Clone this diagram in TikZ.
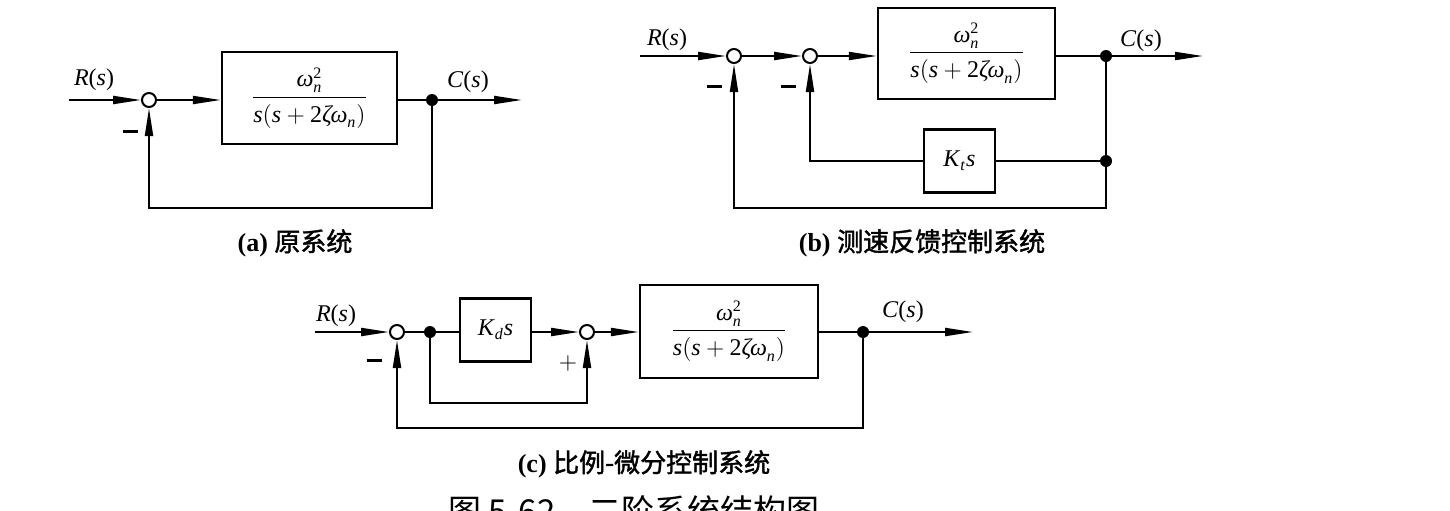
\documentclass[tikz,border=0pt]{standalone}
\usepackage{fontspec}
\usepackage{amsmath}
\setmainfont{Liberation Serif}
\newfontfamily\cjk{Noto Sans CJK SC}
\newfontfamily\cjkb{Noto Sans CJK SC}[FakeBold=1.5]
\usetikzlibrary{arrows.meta}
\newcommand\mi[1]{\textit{#1}}
\newcommand\gfrac{$\dfrac{\mi{ω}^{\text{2}}_{\mi{n}}\rule[-3pt]{0pt}{3pt}}{\rule{0pt}{11pt}\mi{s}(\mi{s}+\text{2}\mi{ζω}_{\mi{n}})}$}
\newcommand\mbar{\rule[3pt]{7.5pt}{1.5pt}}
\begin{document}
\begin{tikzpicture}[x=0.5pt,y=-0.5pt,
  every node/.style={font=\fontsize{12}{14}\selectfont},
  sumj/.style={circle,draw,line width=1pt,minimum size=7pt,inner sep=0pt,fill=white},
  bdot/.style={circle,fill,minimum size=6pt,inner sep=0pt},
  blk/.style={draw,line width=1.2pt,inner sep=0pt,rectangle},
  sig/.style={line width=1pt,-{Triangle[length=14pt,width=4pt]}},
  wire/.style={line width=1pt},
  sign/.style={inner sep=0pt,font=\fontsize{13}{14}\selectfont},
  capt/.style={inner sep=0pt,font=\fontsize{13}{15}\selectfont}]
\useasboundingbox (0,0) rectangle (1450,510);
\clip (0,0) rectangle (1450,510);

% ---------------- (a) ----------------
\coordinate (a-in) at (69,100);
\node[sumj] (a-s1) at (149,100) {};
\node[blk,minimum width=87.5pt,minimum height=46pt] (a-g) at (309.5,98) {\gfrac};
\node[bdot] (a-d) at (432,100) {};
\coordinate (a-out) at (522,100);
\coordinate (a-b) at (432,208);
\draw[sig] (a-in) -- (a-s1);
\draw[sig] (a-s1) -- (a-s1 -| a-g.west);
\draw[wire] (a-g.east |- a-d) -- (a-d);
\draw[sig] (a-d) -- (a-out);
\draw[sig] (a-d) -- (a-b) -| (a-s1);
\node (a-R) at (94,80) {\mi{R}(\mi{s})};
\node (a-C) at (468,82) {\mi{C}(\mi{s})};
\node[sign] (a-m) at (130,134) {\mbar};
\node[capt] (a-cap) at (295,243) {{\bfseries (a)} \cjkb 原系统};

% ---------------- (b) ----------------
\coordinate (b-in) at (640,56);
\node[sumj] (b-s1) at (734,56) {};
\node[sumj] (b-s2) at (810,56) {};
\node[blk,minimum width=88.5pt,minimum height=45.5pt] (b-g) at (966.5,53.5) {\gfrac};
\node[bdot] (b-d1) at (1106,56) {};
\coordinate (b-out) at (1203,56);
\node[blk,minimum width=35.5pt,minimum height=31.5pt] (b-k) at (959.5,161) {\mi{K}\textsubscript{\mi{t}}\mi{s}};
\node[bdot] (b-d2) at (1106,161) {};
\coordinate (b-b) at (1106,208);
\coordinate (b-k2) at (810,161);
\draw[sig] (b-in) -- (b-s1);
\draw[sig] (b-s1) -- (b-s2);
\draw[sig] (b-s2) -- (b-s2 -| b-g.west);
\draw[wire] (b-g.east |- b-d1) -- (b-d1);
\draw[sig] (b-d1) -- (b-out);
\draw[wire] (b-d1) -- (b-d2);
\draw[wire] (b-d2) -- (b-k.east |- b-d2);
\draw[sig] (b-k.west |- b-d2) -- (b-k2) -- (b-s2);
\draw[sig] (b-d2) -- (b-b) -| (b-s1);
\node (b-R) at (667,40) {\mi{R}(\mi{s})};
\node (b-C) at (1141,41) {\mi{C}(\mi{s})};
\node[sign] (b-m1) at (714,89) {\mbar};
\node[sign] (b-m2) at (788,89) {\mbar};
\node[capt] (b-cap) at (922,243) {{\bfseries (b)} \cjkb 测速反馈控制系统};

% ---------------- (c) ----------------
\coordinate (c-in) at (315,332);
\node[sumj] (c-s1) at (397,332) {};
\node[bdot] (c-d0) at (430,332) {};
\node[blk,minimum width=35.5pt,minimum height=31.5pt] (c-k) at (495.5,330) {\mi{K}\textsubscript{\mi{d}}\mi{s}};
\node[sumj] (c-s2) at (587,332) {};
\node[blk,minimum width=89pt,minimum height=46.5pt] (c-g) at (729,331.5) {\gfrac};
\node[bdot] (c-d1) at (863,332) {};
\coordinate (c-out) at (973,332);
\coordinate (c-i) at (430,403);
\coordinate (c-o) at (863,428);
\draw[sig] (c-in) -- (c-s1);
\draw[wire] (c-s1) -- (c-d0);
\draw[wire] (c-d0) -- (c-k.west |- c-d0);
\draw[sig] (c-k.east |- c-s2) -- (c-s2);
\draw[sig] (c-s2) -- (c-s2 -| c-g.west);
\draw[wire] (c-g.east |- c-d1) -- (c-d1);
\draw[sig] (c-d1) -- (c-out);
\draw[sig] (c-d0) -- (c-i) -| (c-s2);
\draw[sig] (c-d1) -- (c-o) -| (c-s1);
\node (c-R) at (336,316) {\mi{R}(\mi{s})};
\node (c-C) at (903,312) {\mi{C}(\mi{s})};
\node[sign] (c-m) at (374,363) {\mbar};
\node[sign] (c-p) at (568,363) {$+$};
\node[capt] (c-cap) at (644,464) {{\bfseries (c)} \cjkb 比例-微分控制系统};

% ---------------- figure caption (cut by the lower edge) ----------------
\node[inner sep=0pt,anchor=north,font=\fontsize{16.5}{18}\selectfont] (fig-cap) at (634,495) {\cjk 图 5-62\quad 二阶系统结构图};
\end{tikzpicture}
\end{document}
